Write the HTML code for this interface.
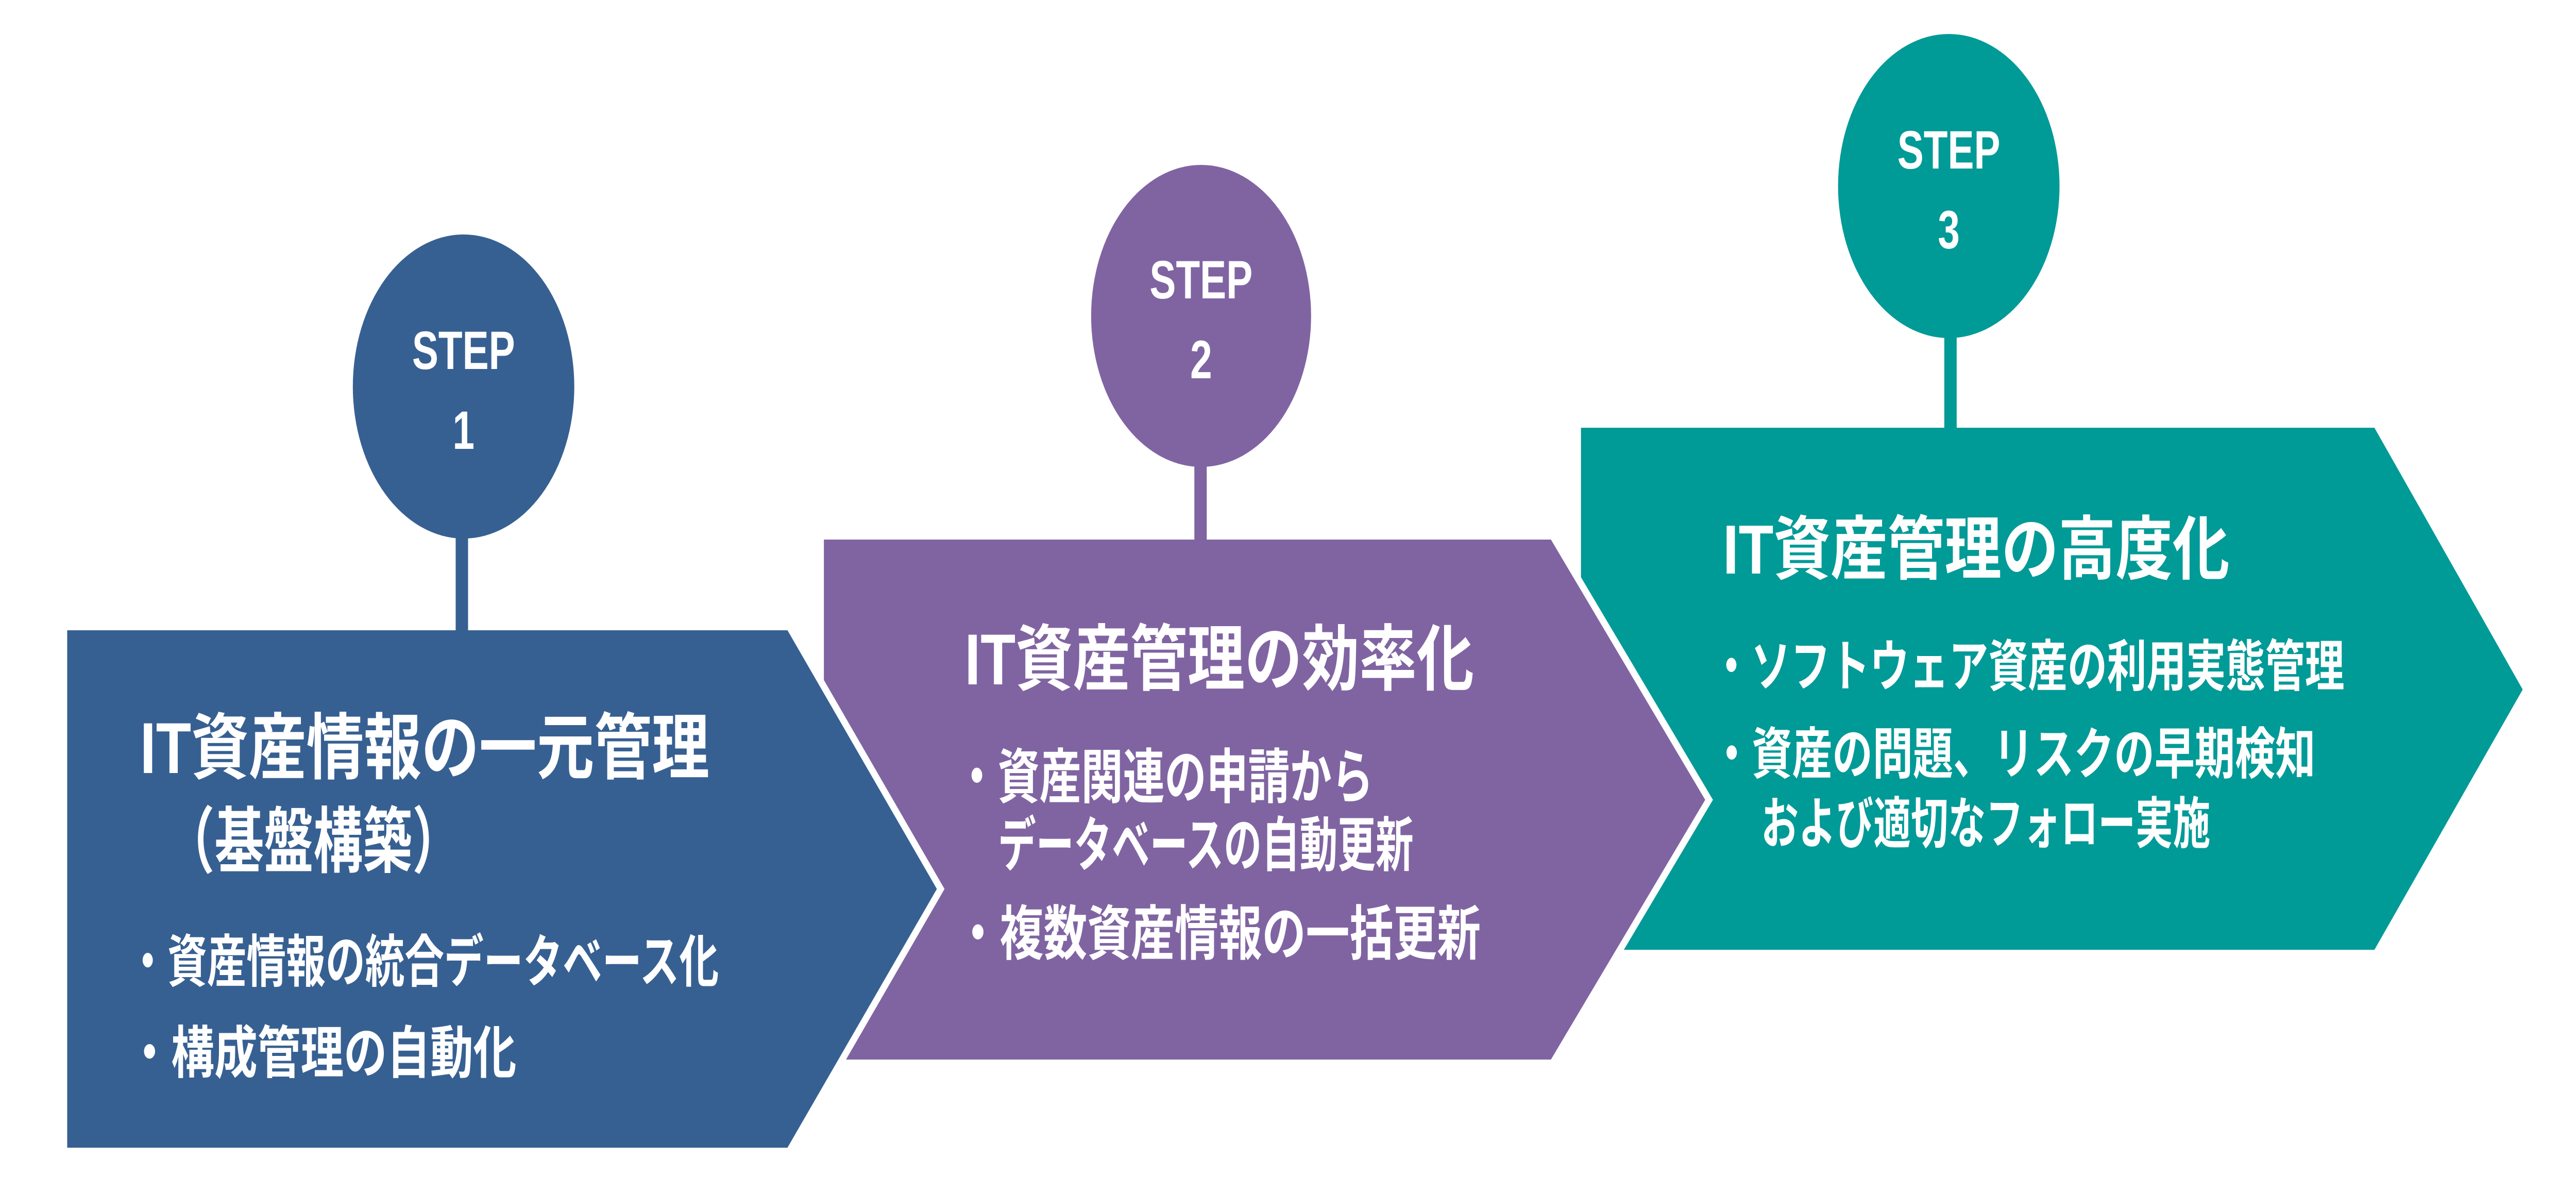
<!DOCTYPE html>
<html><head><meta charset="utf-8"><style>
html,body{margin:0;padding:0;background:#fff;width:100%;height:100%;overflow:hidden;}
svg{display:block;width:100vw;height:100vh;}
text{font-family:"Liberation Sans","Noto Sans CJK JP",sans-serif;font-weight:bold;fill:#fff;}
</style></head><body>
<svg viewBox="0 0 6863 2313" preserveAspectRatio="none" xmlns="http://www.w3.org/2000/svg">
<polygon points="4212,830 6326,830 6721,1338 6326,1843 4212,1843" fill="#009a97"/>
<polygon points="2195,1047 4132,1047 4543,1552 4132,2056 2195,2056" fill="#fff" stroke="#fff" stroke-width="32" stroke-linejoin="miter"/>
<polygon points="2195,1047 4132,1047 4543,1552 4132,2056 2195,2056" fill="#8064a2"/>
<polygon points="179,1223 2098,1223 2496,1725 2098,2227 179,2227" fill="#fff" stroke="#fff" stroke-width="32" stroke-linejoin="miter"/>
<polygon points="179,1223 2098,1223 2496,1725 2098,2227 179,2227" fill="#376092"/>
<rect x="1214" y="1000" width="33" height="225" fill="#376092"/>
<rect x="3182" y="860" width="33" height="188" fill="#8064a2"/>
<rect x="5180" y="600" width="33" height="231" fill="#009a97"/>
<circle cx="1235" cy="750" r="295" fill="#376092"/>
<circle cx="3200" cy="613" r="293" fill="#8064a2"/>
<circle cx="5192" cy="361" r="295" fill="#009a97"/>
<g font-size="105" text-anchor="middle">
<text x="1235" y="716">STEP</text><text x="1235" y="871">1</text>
<text x="3200" y="579">STEP</text><text x="3200" y="734">2</text>
<text x="5192" y="327">STEP</text><text x="5192" y="482">3</text>
</g>
<text x="373" y="1500" font-size="140" textLength="1517" lengthAdjust="spacingAndGlyphs">IT資産情報の一元管理</text>
<text x="440" y="1682" font-size="140" textLength="790" lengthAdjust="spacingAndGlyphs">（基盤構築）</text>
<text x="341" y="1905" font-size="110" textLength="1574" lengthAdjust="spacingAndGlyphs">・資産情報の統合データベース化</text>
<text x="341" y="2082" font-size="110" textLength="1035" lengthAdjust="spacingAndGlyphs">・構成管理の自動化</text>
<text x="2570" y="1328" font-size="140" textLength="1357" lengthAdjust="spacingAndGlyphs">IT資産管理の効率化</text>
<text x="2547" y="1548" font-size="115" textLength="1112" lengthAdjust="spacingAndGlyphs">・資産関連の申請から</text>
<text x="2659" y="1680" font-size="115" textLength="1107" lengthAdjust="spacingAndGlyphs">データベースの自動更新</text>
<text x="2547" y="1852" font-size="115" textLength="1398" lengthAdjust="spacingAndGlyphs">・複数資産情報の一括更新</text>
<text x="4590" y="1113" font-size="135" textLength="1350" lengthAdjust="spacingAndGlyphs">IT資産管理の高度化</text>
<text x="4560" y="1331" font-size="108" textLength="1686" lengthAdjust="spacingAndGlyphs">・ソフトウェア資産の利用実態管理</text>
<text x="4560" y="1501" font-size="108" textLength="1609" lengthAdjust="spacingAndGlyphs">・資産の問題、リスクの早期検知</text>
<text x="4692" y="1636" font-size="108" textLength="1197" lengthAdjust="spacingAndGlyphs">および適切なフォロー実施</text>
</svg>
</body></html>
